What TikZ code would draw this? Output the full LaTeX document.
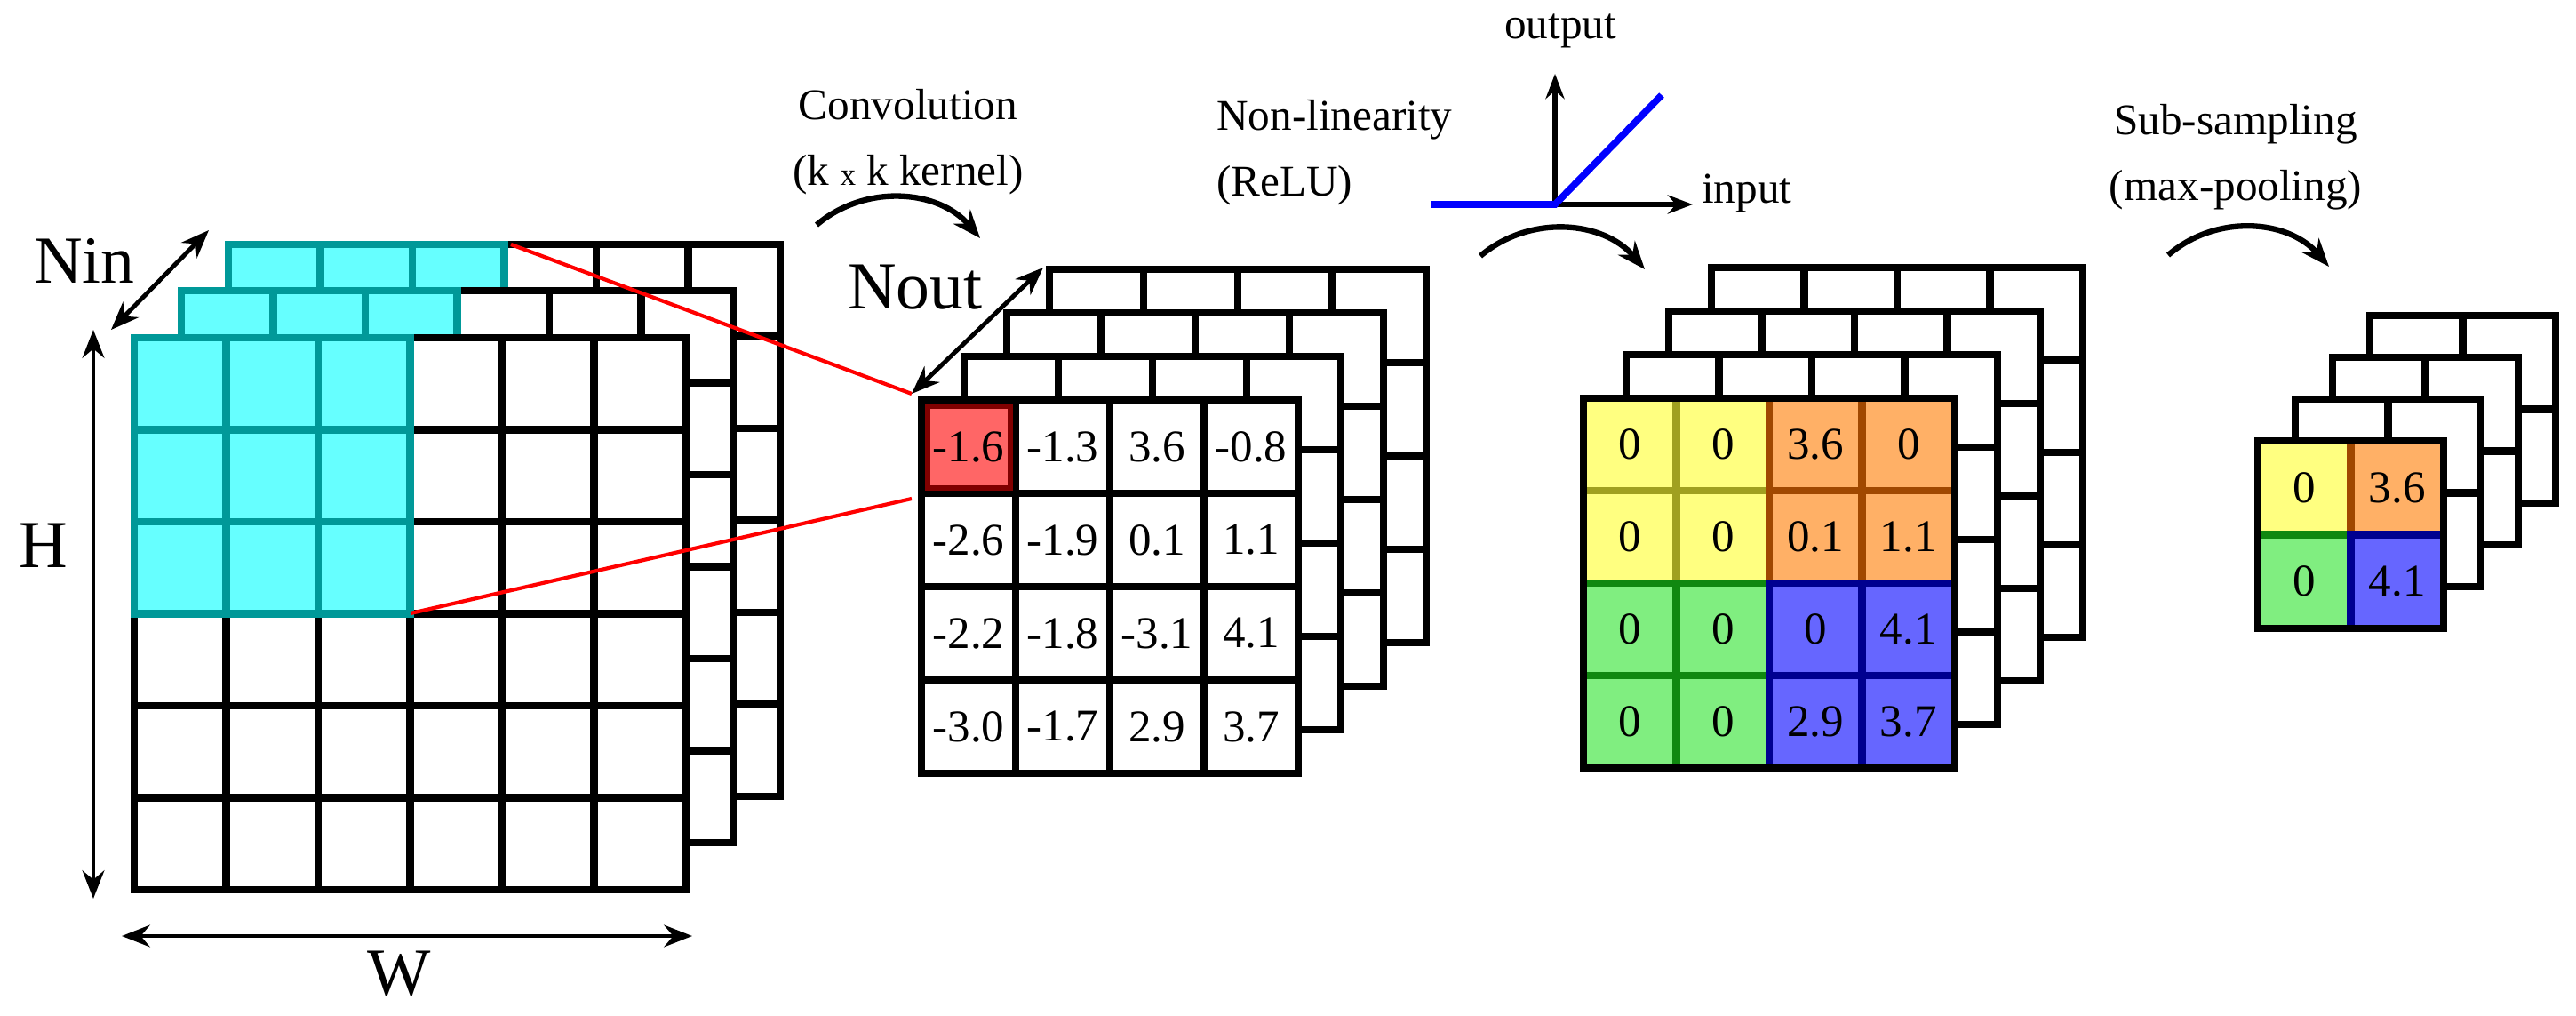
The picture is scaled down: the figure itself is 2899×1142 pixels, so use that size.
\documentclass[tikz,border=0pt]{standalone}
\usepackage{fontspec}
\setmainfont{Liberation Serif}
\usetikzlibrary{arrows.meta}
\definecolor{cyanFill}{HTML}{66FFFF}
\definecolor{cyanLine}{HTML}{009999}
\definecolor{redFill}{HTML}{FF6666}
\definecolor{redLine}{HTML}{800000}
\definecolor{yelFill}{HTML}{FFFF80}
\definecolor{yelLine}{HTML}{A0A020}
\definecolor{oraFill}{HTML}{FFB066}
\definecolor{oraLine}{HTML}{A04800}
\definecolor{grnFill}{HTML}{80EE80}
\definecolor{grnLine}{HTML}{108810}
\definecolor{bluFill}{HTML}{6666FF}
\definecolor{bluLine}{HTML}{000090}

% feature map: x y cols rows cellw cellh fill line
\newcommand\fmap[8]{%
  \pgfmathtruncatemacro\nc{#3-1}\pgfmathtruncatemacro\nr{#4-1}
  \filldraw[fill=#7,draw=#8] (#1,#2) rectangle ++({#3*#5},{#4*#6});
  \ifnum\nc>0 \foreach \i in {1,...,\nc}{\draw[#8] ({#1+\i*#5},#2) -- ++(0,{#4*#6});}\fi
  \ifnum\nr>0 \foreach \j in {1,...,\nr}{\draw[#8] (#1,{#2+\j*#6}) -- ++({#3*#5},0);}\fi
}

\tikzset{
  grid/.style={line width=2.4pt},
  lbl/.style={font=\fontsize{14}{21}\selectfont, align=center, inner sep=0pt},
  big/.style={font=\fontsize{21.5}{24}\selectfont, inner sep=0pt},
  num/.style={font=\fontsize{14.5}{16}\selectfont, inner sep=0pt},
  dim/.style={line width=1.4pt, {Stealth[length=9pt,width=7pt]}-{Stealth[length=9pt,width=7pt]}},
  stage/.style={line width=1.8pt, -{Stealth[length=9pt,width=7pt]}, bend left=45},
  axis/.style={line width=1.6pt, -{Stealth[length=8pt,width=6pt]}},
  link/.style={red, line width=1.2pt}
}

\begin{document}
\begin{tikzpicture}[x=0.01cm, y=-0.01cm, grid]
\useasboundingbox (0,0) rectangle (2899,1142);

% input stack with the kernel window
\fmap{257}{275}{6}{6}{103.5}{103.5}{white}{black}
\fmap{257}{275}{3}{1}{103.5}{103.5}{cyanFill}{cyanLine}
\fmap{204}{327}{6}{6}{103.5}{103.5}{white}{black}
\fmap{204}{327}{3}{1}{103.5}{103.5}{cyanFill}{cyanLine}
\fmap{151}{380}{6}{6}{103.5}{103.5}{white}{black}
\fmap{151}{380}{3}{3}{103.5}{103.5}{cyanFill}{cyanLine}

% convolution output stack
\fmap{1181}{303}{4}{4}{106}{105}{white}{black}
\fmap{1133}{352}{4}{4}{106}{105}{white}{black}
\fmap{1085}{401}{4}{4}{106}{105}{white}{black}
\fmap{1037}{450}{4}{4}{106}{105}{white}{black}
\filldraw[fill=redFill, draw=redLine, line width=1.5pt] (1044,457) rectangle (1137,549);
\draw (1037,450) rectangle ++(424,420);
\foreach \v [count=\k from 0] in {-1.6,-1.3,3.6,-0.8,-2.6,-1.9,0.1,1.1,-2.2,-1.8,-3.1,4.1,-3.0,-1.7,2.9,3.7}{
  \pgfmathtruncatemacro\cc{mod(\k,4)}\pgfmathtruncatemacro\rr{div(\k,4)}
  \node[num] (conv\k) at ({1037+(\cc+0.5)*106},{450+(\rr+0.5)*105}) {\v};
}

% kernel window links
\coordinate (winTop) at (575,275);
\coordinate (winBot) at (462,690);
\coordinate (outTop) at (1026,443);
\coordinate (outBot) at (1026,561);
\draw[link] (winTop) -- (outTop);
\draw[link] (winBot) -- (outBot);

% ReLU output stack
\fmap{1926}{301}{4}{4}{104.5}{104}{white}{black}
\fmap{1878}{350}{4}{4}{104.5}{104}{white}{black}
\fmap{1830}{399}{4}{4}{104.5}{104}{white}{black}
\fmap{1782}{448}{4}{4}{104.5}{104}{white}{black}
\fmap{1782}{448}{2}{2}{104.5}{104}{yelFill}{yelLine}
\fmap{1991}{448}{2}{2}{104.5}{104}{oraFill}{oraLine}
\fmap{1782}{656}{2}{2}{104.5}{104}{grnFill}{grnLine}
\fmap{1991}{656}{2}{2}{104.5}{104}{bluFill}{bluLine}
\draw (1782,448) rectangle ++(418,416);
\foreach \v [count=\k from 0] in {0,0,3.6,0,0,0,0.1,1.1,0,0,0,4.1,0,0,2.9,3.7}{
  \pgfmathtruncatemacro\cc{mod(\k,4)}\pgfmathtruncatemacro\rr{div(\k,4)}
  \node[num] (relu\k) at ({1782+(\cc+0.5)*104.5},{448+(\rr+0.5)*104}) {\v};
}

% pooled stack
\fmap{2667}{355}{2}{2}{104.5}{105.5}{white}{black}
\fmap{2625}{402}{2}{2}{104.5}{105.5}{white}{black}
\fmap{2583}{449}{2}{2}{104.5}{105.5}{white}{black}
\fmap{2541}{496}{1}{1}{104.5}{105.5}{yelFill}{yelLine}
\fmap{2645.5}{496}{1}{1}{104.5}{105.5}{oraFill}{oraLine}
\fmap{2541}{601.5}{1}{1}{104.5}{105.5}{grnFill}{grnLine}
\fmap{2645.5}{601.5}{1}{1}{104.5}{105.5}{bluFill}{bluLine}
\draw (2541,496) rectangle ++(209,211);
\foreach \v [count=\k from 0] in {0,3.6,0,4.1}{
  \pgfmathtruncatemacro\cc{mod(\k,2)}\pgfmathtruncatemacro\rr{div(\k,2)}
  \node[num] (pool\k) at ({2541+(\cc+0.5)*104.5},{496+(\rr+0.5)*105.5}) {\v};
}

% dimension arrows
\coordinate (ninA) at (125,371);
\coordinate (ninB) at (235,259);
\coordinate (hA) at (105,371);
\coordinate (hB) at (105,1011);
\coordinate (wA) at (137,1053);
\coordinate (wB) at (779,1053);
\coordinate (noutA) at (1026,443);
\coordinate (noutB) at (1174,301);
\draw[dim] (ninA) -- (ninB);
\draw[dim] (hA) -- (hB);
\draw[dim] (wA) -- (wB);
\draw[dim] (noutA) -- (noutB);
\node[big] (nin) at (95,293) {Nin};
\node[big] (hlab) at (49,614) {H};
\node[big] (wlab) at (449,1095) {W};
\node[big] (nout) at (1030,323) {Nout};

% step labels and arcs
\node[lbl] (conv) at (1022,160) {Convolution\\(k {\fontsize{10}{12}\selectfont x} k kernel)};
\node[lbl, align=left, anchor=west] (relu) at (1365,172) {Non-linearity\\(ReLU)};
\node[lbl] (pool) at (2516,177) {Sub-sampling\\(max-pooling)};
\coordinate (convA) at (919,253);
\coordinate (convB) at (1103,268);
\coordinate (reluA) at (1666,288);
\coordinate (reluB) at (1851,303);
\coordinate (poolA) at (2440,287);
\coordinate (poolB) at (2621,300);
\draw[stage] (convA) to (convB);
\draw[stage] (reluA) to (reluB);
\draw[stage] (poolA) to (poolB);

% ReLU sketch
\coordinate (orig) at (1750,230);
\coordinate (yTip) at (1750,83);
\coordinate (xTip) at (1905,230);
\coordinate (negEnd) at (1610,230);
\coordinate (posEnd) at (1870,107);
\draw[axis] (orig) -- (yTip);
\draw[axis] (orig) -- (xTip);
\draw[blue, line width=2.2pt] (negEnd) -- (orig) -- (posEnd);
\node[lbl] (outLab) at (1756,35) {output};
\node[lbl, anchor=west] (inLab) at (1911,217) {input};
\end{tikzpicture}
\end{document}
